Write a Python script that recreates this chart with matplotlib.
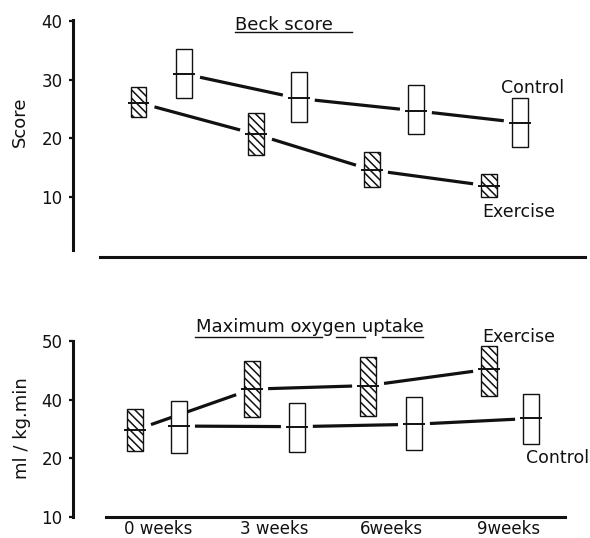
import numpy as np
import matplotlib
matplotlib.use("Agg")
import matplotlib.pyplot as plt
from matplotlib.patches import Rectangle
from matplotlib.lines import Line2D

# weeks of measurement
weeks = [0, 3, 6, 9]
week_labels = ["0 weeks", "3 weeks", "6weeks", "9weeks"]

# Beck score (mean, lower, upper)
beck_ex_mean = [26.1, 20.7, 14.6, 11.9]
beck_ex_lo = [23.7, 17.2, 11.7, 10.0]
beck_ex_hi = [28.7, 24.4, 17.6, 14.0]
beck_ct_mean = [31.0, 26.8, 24.7, 22.7]
beck_ct_lo = [26.8, 22.8, 20.8, 18.6]
beck_ct_hi = [35.3, 31.3, 29.1, 26.9]

# maximum oxygen uptake (read against evenly spaced ticks)
vo2_ex_mean = [34.8, 41.8, 42.4, 45.2]
vo2_ex_lo = [31.2, 37.0, 37.3, 40.6]
vo2_ex_hi = [38.4, 46.6, 47.2, 49.1]
vo2_ct_mean = [35.5, 35.4, 35.8, 36.8]
vo2_ct_lo = [30.9, 31.0, 31.5, 32.5]
vo2_ct_hi = [39.8, 39.5, 40.5, 41.0]

beck_ticks = [10, 20, 30, 40]
beck_ticklabels = ["10", "20", "30", "40"]
vo2_ticks = [20, 30, 40, 50]
vo2_ticklabels = ["10", "20", "40", "50"]

W, H = 590, 538
INK = "#111111"
plt.rcParams["font.family"] = ["DejaVu Sans"]
plt.rcParams["hatch.linewidth"] = 1.1
plt.rcParams["hatch.color"] = INK

fig = plt.figure(figsize=(W / 100, H / 100), dpi=100)


def fx(px):
    return px / W


def fy(py):
    return 1 - py / H


# week 0 sits at x=158 px, 38.9 px per week
x0_px, ppw = 158, 38.9
xl = ((73 - x0_px) / ppw, (590 - x0_px) / ppw)

ax1 = fig.add_axes([fx(73), fy(250), fx(590) - fx(73), fy(20) - fy(250)])
ax2 = fig.add_axes([fx(73), fy(517), fx(590) - fx(73), fy(341) - fy(517)])


def draw_group(ax, xs, mean, lo, hi, hatched):
    bw, tw, gap = 0.40, 0.28, 0.41
    for x, m, a, b in zip(xs, mean, lo, hi):
        ax.add_patch(Rectangle((x - bw / 2, a), bw, b - a, facecolor="white",
                               edgecolor=INK, lw=1.0,
                               hatch="\\\\\\\\" if hatched else None, zorder=2))
        ax.plot([x - tw, x + tw], [m, m], color=INK, lw=1.4, zorder=3,
                solid_capstyle="butt")
    for i in range(len(xs) - 1):
        x1, y1, x2, y2 = xs[i], mean[i], xs[i + 1], mean[i + 1]
        t = gap / (x2 - x1)
        ax.plot([x1 + t * (x2 - x1), x2 - t * (x2 - x1)],
                [y1 + t * (y2 - y1), y2 - t * (y2 - y1)],
                color=INK, lw=2.3, solid_capstyle="butt", zorder=1)


# dodge of each group around the week position (layout)
top_ex_dx = [-0.50, -0.48, -0.50, -0.49]
top_ct_dx = [0.67, 0.62, 0.63, 0.30]
bot_ex_dx = [-0.59, -0.58, -0.60, -0.49]
bot_ct_dx = [0.54, 0.57, 0.58, 0.59]

draw_group(ax1, [w + d for w, d in zip(weeks, top_ex_dx)],
           beck_ex_mean, beck_ex_lo, beck_ex_hi, True)
draw_group(ax1, [w + d for w, d in zip(weeks, top_ct_dx)],
           beck_ct_mean, beck_ct_lo, beck_ct_hi, False)
draw_group(ax2, [w + d for w, d in zip(weeks, bot_ex_dx)],
           vo2_ex_mean, vo2_ex_lo, vo2_ex_hi, True)
draw_group(ax2, [w + d for w, d in zip(weeks, bot_ct_dx)],
           vo2_ct_mean, vo2_ct_lo, vo2_ct_hi, False)

for ax in (ax1, ax2):
    ax.set_xlim(*xl)
    ax.spines["top"].set_visible(False)
    ax.spines["right"].set_visible(False)
    ax.spines["left"].set_linewidth(2.2)
    ax.spines["bottom"].set_linewidth(2.2)
    ax.spines["left"].set_color(INK)
    ax.spines["bottom"].set_color(INK)
    ax.tick_params(axis="y", direction="out", length=3, width=1.6,
                   labelsize=12, pad=4.5, colors=INK)
    ax.patch.set_alpha(0)

ax1.set_ylim(0.99, 40.17)
ax1.set_yticks(beck_ticks)
ax1.set_yticklabels(beck_ticklabels)
ax1.set_xticks([])
ax1.spines["bottom"].set_position(("outward", 5))
ax1.spines["bottom"].set_bounds((100 - x0_px) / ppw, (585 - x0_px) / ppw)

ax2.set_ylim(20, 50)
ax2.set_yticks(vo2_ticks)
ax2.set_yticklabels(vo2_ticklabels)
ax2.set_xticks(weeks)
ax2.set_xticklabels(week_labels)
ax2.tick_params(axis="x", length=0, labelsize=12, pad=2, colors=INK)
ax2.spines["bottom"].set_bounds((106 - x0_px) / ppw, (565 - x0_px) / ppw)

# texts
fs = 12.5
fig.text(fx(235), fy(30), "Beck score", fontsize=13, ha="left", va="baseline", color=INK)
fig.add_artist(Line2D([fx(235), fx(352)], [fy(32.5), fy(32.5)], color=INK, lw=1.0))
fig.text(fx(501), fy(93), "Control", fontsize=fs, ha="left", va="baseline", color=INK)
fig.text(fx(482), fy(217), "Exercise", fontsize=fs, ha="left", va="baseline", color=INK)

fig.text(fx(196), fy(332), "Maximum oxygen uptake", fontsize=13, ha="left",
         va="baseline", color=INK)
for a, b in [(195, 322), (336, 365), (382, 423)]:
    fig.add_artist(Line2D([fx(a), fx(b)], [fy(337), fy(337)], color=INK, lw=1.0))
fig.text(fx(482), fy(342.5), "Exercise", fontsize=fs, ha="left", va="baseline", color=INK)
fig.text(fx(526), fy(463), "Control", fontsize=fs, ha="left", va="baseline", color=INK)

fig.text(fx(20), fy(122), "Score", fontsize=13, rotation=90, ha="center",
         va="center", color=INK)
fig.text(fx(22), fy(428), "ml / kg.min", fontsize=13, rotation=90, ha="center",
         va="center", color=INK)

fig.savefig("out.png", dpi=100, facecolor="white")
